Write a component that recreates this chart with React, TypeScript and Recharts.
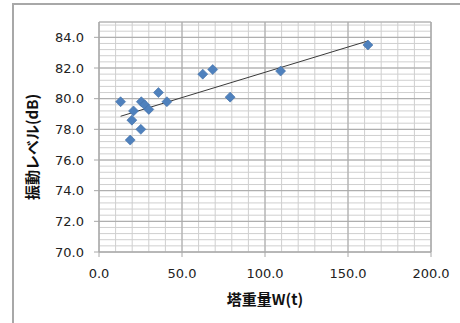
import React from 'react';
import { ScatterChart, Scatter, XAxis, YAxis, CartesianGrid, ReferenceLine } from 'recharts';

const weights = [13, 18.8, 19.8, 20.8, 25.2, 25.5, 27.5, 30, 35.8, 40.9, 62.5, 68.5, 79, 109.4, 162];
const levels = [79.8, 77.3, 78.6, 79.2, 78.0, 79.8, 79.6, 79.3, 80.4, 79.8, 81.6, 81.9, 80.1, 81.8, 83.5];

const xTicks = [0, 50, 100, 150, 200];
const yTicks = [70, 72, 74, 76, 78, 80, 82, 84];
const xMinor = Array.from({ length: 21 }, (_, i) => i * 10);
const yMinor = [...Array.from({ length: 38 }, (_, i) => +(70 + i * 0.4).toFixed(1)), 85];

const data = weights.map((w, i) => ({ w, v: levels[i] }));

// least-squares trendline (as Excel's linear trendline)
const n = weights.length;
const mx = weights.reduce((a, b) => a + b, 0) / n;
const my = levels.reduce((a, b) => a + b, 0) / n;
let sxy = 0, sxx = 0;
weights.forEach((x, i) => { sxy += (x - mx) * (levels[i] - my); sxx += (x - mx) * (x - mx); });
const slope = sxy / sxx;
const icpt = my - slope * mx;
const xLo = Math.min(...weights);
const xHi = Math.max(...weights);
const trend = [{ x: xLo, y: icpt + slope * xLo }, { x: xHi, y: icpt + slope * xHi }];

const Diamond = (props: any) => {
  const { cx, cy } = props;
  const r = 5;
  return <path d={`M${cx},${cy - r}L${cx + r},${cy}L${cx},${cy + r}L${cx - r},${cy}Z`} fill="#4f81bd" stroke="#416fa6" strokeWidth={0.6} />;
};

const XTitle = () => (
  <text x={265} y={298} textAnchor="middle" dominantBaseline="central" fontFamily="'Noto Sans CJK JP'" fontWeight="bold" fontSize={15} fill="#111">塔重量W(t)</text>
);
const YTitle = () => (
  <text x={31} y={147} transform="rotate(-90 31 147)" textAnchor="middle" dominantBaseline="central" fontFamily="'Noto Sans CJK JP'" fontWeight="bold" fontSize={15} fill="#111">振動レベル(dB)</text>
);

const tickStyle = { fill: '#222', fontSize: 13, fontFamily: 'DejaVu Sans' };

export default function App() {
  return (
    <div style={{ position: 'absolute', left: 0, top: 0, width: 460, height: 323, background: '#fff', overflow: 'hidden' }}>
      <div style={{ position: 'absolute', left: 12, top: 3, width: 470, height: 340, border: '2px solid #a8a8a8', boxSizing: 'border-box' }} />
      <div style={{ position: 'absolute', left: 0, top: 0 }}>
        <ScatterChart width={460} height={323} margin={{ top: 22, right: 29, bottom: 0, left: 0 }}>
          <CartesianGrid stroke="#cfcfcf" strokeWidth={1} verticalValues={xMinor} horizontalValues={yMinor} />
          <CartesianGrid stroke="#a8a8a8" strokeWidth={1} verticalValues={xTicks.concat([200])} horizontalValues={[...yTicks, 85]} fill="none" />
          <XAxis type="number" dataKey="w" domain={[0, 200]} ticks={xTicks} interval={0}
            tickFormatter={(v: number) => v.toFixed(1)} height={71} tickSize={5} tickMargin={12}
            stroke="#a8a8a8" tick={tickStyle} label={<XTitle />} allowDataOverflow />
          <YAxis type="number" dataKey="v" domain={[70, 85]} ticks={yTicks} interval={0}
            tickFormatter={(v: number) => v.toFixed(1)} width={99} tickSize={5} tickMargin={10}
            stroke="#a8a8a8" tick={tickStyle} label={<YTitle />} allowDataOverflow />
          <ReferenceLine segment={trend} stroke="#3a3a3a" strokeWidth={1} ifOverflow="visible" />
          <Scatter data={data} shape={<Diamond />} isAnimationActive={false} />
        </ScatterChart>
      </div>
    </div>
  );
}
